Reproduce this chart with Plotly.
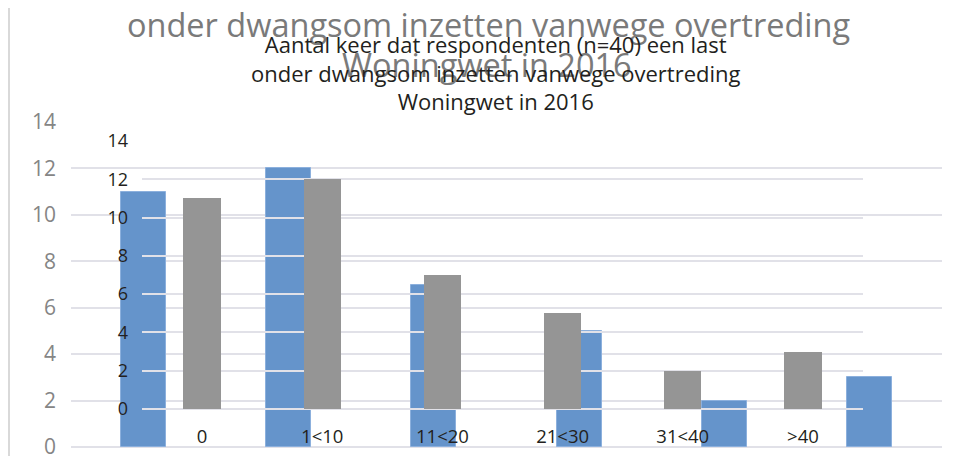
import plotly.graph_objects as go

categories = ["0", "1<10", "11<20", "21<30", "31<40", ">40"]
aantal_achter = [11, 12, 7, 5, 2, 3]
aantal_voor = [11, 12, 7, 5, 2, 3]
y_ticks = [0, 2, 4, 6, 8, 10, 12, 14]

titel_achter = ["onder dwangsom inzetten vanwege overtreding", "Woningwet in 2016"]
titel_voor = ("Aantal keer dat respondenten (n=40) een last<br>"
              "onder dwangsom inzetten vanwege overtreding<br>Woningwet in 2016")

W, H = 962, 456
OFF = 8  # de pagina zet de grafiek 8px naar rechts en naar onder
GRID = "#e1e1e8"


def px(x):
    return (x - OFF) / W


def py(y):
    return (H - (y - OFF)) / H


fig = go.Figure()

# achterste (deels afgesneden) grafiek
fig.add_trace(go.Bar(x=categories, y=aantal_achter, width=0.31,
                     marker=dict(color="#6594cb", line=dict(color="#8cb0dd", width=1)),
                     xaxis="x", yaxis="y", showlegend=False))

# voorste grafiek er overheen
fig.add_trace(go.Bar(x=categories, y=aantal_voor, width=0.31,
                     marker=dict(color="#959595", line=dict(width=0)),
                     xaxis="x2", yaxis="y2", showlegend=False))

fig.update_layout(
    width=W, height=H,
    margin=dict(l=0, r=0, t=0, b=0, autoexpand=False),
    paper_bgcolor="white", plot_bgcolor="rgba(0,0,0,0)",
    font=dict(family="Open Sans", color="#231f20"),
    bargap=0,
    xaxis=dict(domain=[px(71), px(942)], showticklabels=False, showgrid=False,
               ticks="", showline=False, zeroline=False, automargin=False),
    yaxis=dict(domain=[py(447), py(122)], range=[0, 14], tickvals=y_ticks,
               showgrid=True, gridcolor=GRID, gridwidth=1.5, zeroline=True,
               zerolinecolor=GRID, zerolinewidth=1.5, showline=False, ticks="",
               ticklabelstandoff=14, automargin=False,
               tickfont=dict(family="Open Sans", size=21, color="#858585")),
    xaxis2=dict(domain=[px(142), px(863)], anchor="y2", showgrid=False, ticks="",
                showline=False, zeroline=False, ticklabelstandoff=14, automargin=False,
                tickfont=dict(family="Open Sans", size=18.5, color="#231f20")),
    yaxis2=dict(domain=[py(409), py(141)], range=[0, 14], tickvals=y_ticks,
                anchor="x2", showgrid=True, gridcolor=GRID, gridwidth=1.5, zeroline=True,
                zerolinecolor=GRID, zerolinewidth=1.5, showline=False, ticks="",
                ticklabelstandoff=13, automargin=False,
                tickfont=dict(family="Open Sans", size=18, color="#231f20")),
    shapes=[dict(type="line", xref="paper", yref="paper", x0=px(9), x1=px(9), y0=0, y1=1,
                 line=dict(color="#d9d9d9", width=2), layer="below")],
)

# titel van de achterste grafiek (eerste regel valt buiten beeld)
fig.add_annotation(text=titel_achter[0], xref="paper", yref="paper", x=px(488), y=py(24),
                   xanchor="center", yanchor="middle", showarrow=False,
                   font=dict(family="Open Sans", size=32.5, color="#7a7a7a"))
fig.add_annotation(text=titel_achter[1], xref="paper", yref="paper", x=px(487), y=py(64),
                   xanchor="center", yanchor="middle", showarrow=False,
                   font=dict(family="Open Sans", size=32.5, color="#7a7a7a"))

# titel van de voorste grafiek
fig.add_annotation(text=titel_voor, xref="paper", yref="paper", x=px(496), y=py(72),
                   xanchor="center", yanchor="middle", showarrow=False, align="center",
                   font=dict(family="Open Sans", size=22, color="#231f20"))

fig.write_html("out.html")
